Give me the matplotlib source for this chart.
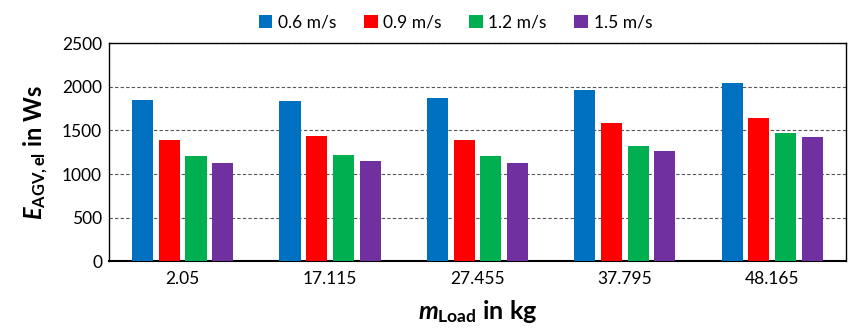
import numpy as np
import matplotlib
matplotlib.use('Agg')
import matplotlib.pyplot as plt

# load levels (x categories) and speeds (series)
loads = ["2.05", "17.115", "27.455", "37.795", "48.165"]
speeds = ["0.6 m/s", "0.9 m/s", "1.2 m/s", "1.5 m/s"]

e_06 = [1851, 1839, 1866, 1961, 2046]
e_09 = [1396, 1438, 1396, 1587, 1644]
e_12 = [1204, 1224, 1204, 1327, 1476]
e_15 = [1128, 1155, 1124, 1262, 1427]

colors = ["#0070C0", "#FF0000", "#00B050", "#7030A0"]

plt.rcParams['font.family'] = ['Lato', 'DejaVu Sans']
plt.rcParams['mathtext.fontset'] = 'custom'
plt.rcParams['mathtext.it'] = 'Lato:italic:bold'
plt.rcParams['mathtext.bf'] = 'Lato:bold'
plt.rcParams['mathtext.rm'] = 'Lato:bold'

fig = plt.figure(figsize=(8.48, 3.31), dpi=100)
ax = fig.add_axes([0.1285, 0.21, 0.869, 0.66])

x = np.arange(len(loads))
step = 0.181
width = 0.143
for i, (vals, lab, col) in enumerate(zip([e_06, e_09, e_12, e_15], speeds, colors)):
    ax.bar(x + (i - 1.5) * step, vals, width, color=col, label=lab, zorder=3)

ax.set_xlim(-0.5, len(loads) - 0.5)
ax.set_ylim(0, 2500)
ax.set_yticks(range(0, 2501, 500))
ax.set_xticks(x)
ax.set_xticklabels(loads)
ax.tick_params(axis='both', length=0, labelsize=12.5)
ax.tick_params(axis='x', pad=7)
ax.tick_params(axis='y', pad=5)
ax.yaxis.grid(True, linestyle=(0, (3, 2)), color='#555555', linewidth=0.8, zorder=0)
for s in ax.spines.values():
    s.set_linewidth(1.0)
    s.set_color('black')
ax.spines['bottom'].set_linewidth(1.5)

ax.set_xlabel(r'$\mathit{m}_{\mathbf{Load}}$ in kg', fontsize=18, fontweight='bold', labelpad=8)
ax.set_ylabel(r'$\mathit{E}_{\mathbf{AGV,el}}$ in Ws', fontsize=17, fontweight='bold', labelpad=8)

ax.legend(loc='lower center', bbox_to_anchor=(0.47, 1.0), ncol=4, frameon=False,
          fontsize=12.5, handlelength=0.8, handleheight=0.8, handletextpad=0.3,
          columnspacing=1.6, borderaxespad=0.3)

fig.savefig('out.png', dpi=100)
